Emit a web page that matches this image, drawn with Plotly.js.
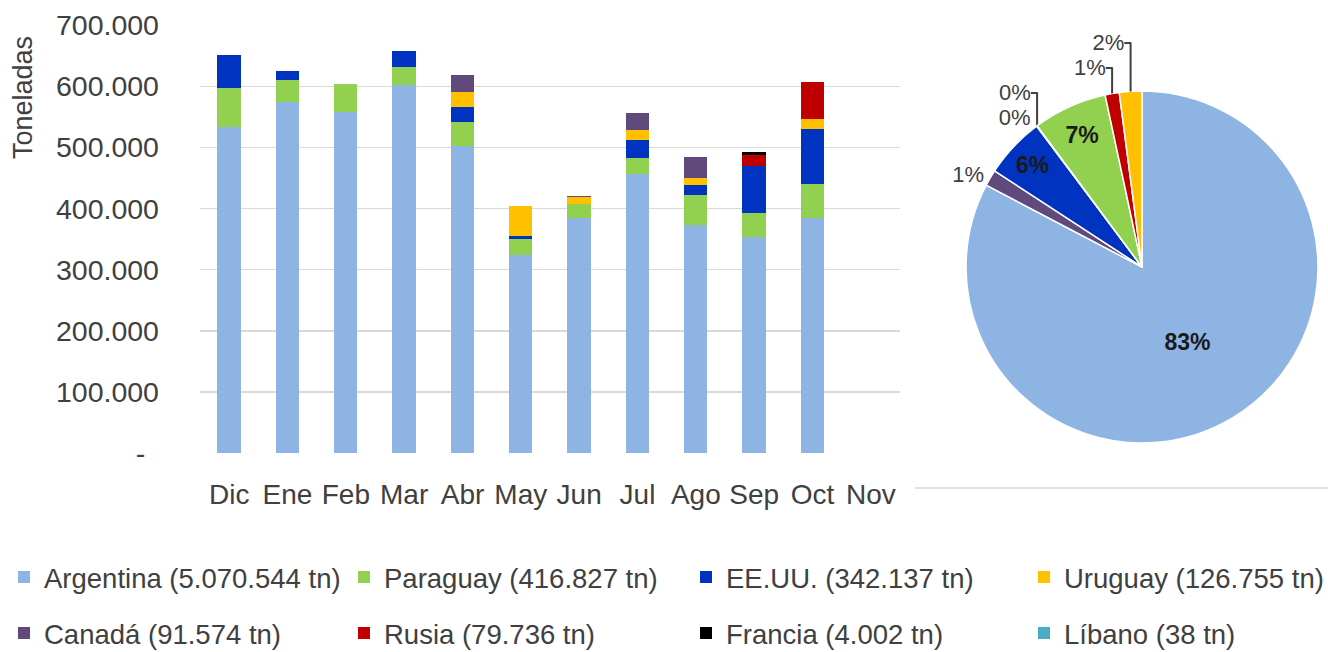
<!DOCTYPE html>
<html>
<head>
<meta charset="utf-8">
<script src="https://cdn.plot.ly/plotly-3.0.1.min.js"></script>
<style>html,body{margin:0;padding:0;background:#fff;}#chart{width:1328px;height:652px;}</style>
</head>
<body>
<div id="chart"></div>
<script>
// ---- data ----
const months = ['Dic','Ene','Feb','Mar','Abr','May','Jun','Jul','Ago','Sep','Oct','Nov'];
const argentina = [533000, 574000, 558000, 603000, 502000, 324000, 384000, 457000, 373000, 353000, 385000, null];
const paraguay  = [64000, 36000, 46000, 28000, 40000, 27000, 23000, 26000, 49000, 40000, 55000, null];
const eeuu      = [54000, 16000, 0, 27000, 25000, 4000, 0, 30000, 16000, 77000, 91000, null];
const uruguay   = [0, 0, 0, 0, 24000, 49000, 12000, 15000, 12000, 0, 15000, null];
const canada    = [0, 0, 0, 0, 28000, 0, 2000, 28000, 34000, 0, 0, null];
const rusia     = [0, 0, 0, 0, 0, 0, 0, 0, 0, 18000, 61000, null];
const francia   = [0, 0, 0, 0, 0, 0, 0, 0, 0, 4000, 0, null];
const libano    = [0, 0, 0, 0, 38, 0, 0, 0, 0, 0, 0, null];

const countryNames  = ['Argentina','Paraguay','EE.UU.','Uruguay','Canadá','Rusia','Francia','Líbano'];
const countryTotals = [5070544, 416827, 342137, 126755, 91574, 79736, 4002, 38];

const pieLabels = ['Argentina','Canadá','EE.UU.','Francia','Líbano','Paraguay','Rusia','Uruguay'];
const pieValues = [5070544, 91574, 342137, 4002, 38, 416827, 79736, 126755];

const yTickVals = [0, 100000, 200000, 300000, 400000, 500000, 600000, 700000];
const yTickText = ['-\u00A0\u2009', '100.000', '200.000', '300.000', '400.000', '500.000', '600.000', '700.000'];

// ---- styling ----
const colorsByCountry = {
  'Argentina':'#8EB4E3', 'Paraguay':'#92D050', 'EE.UU.':'#0033C0', 'Uruguay':'#FFC000',
  'Canadá':'#604A7B', 'Rusia':'#C00000', 'Francia':'#000000', 'Líbano':'#4BACC6'
};
const seriesData = [argentina, paraguay, eeuu, uruguay, canada, rusia, francia, libano];
const FONT = 'Liberation Sans, Arial, sans-serif';
const TXT = '#404040';

// legend slot positions (pixels): 4 columns x 2 rows
const legendColsPx = [4, 344, 686, 1024];
const legendRowsPx = [577, 633];

function fmt(n){ return String(n).replace(/\B(?=(\d{3})+(?!\d))/g, '.'); }
const legendKey = i => (i === 0 ? 'legend' : 'legend' + (i + 1));

const traces = countryNames.map((name, i) => ({
  type: 'bar',
  x: months,
  y: seriesData[i],
  name: name + ' (' + fmt(countryTotals[i]) + ' tn)',
  marker: {color: colorsByCountry[name], line: {width: 0}},
  legend: legendKey(i),
  hoverinfo: 'x+y+name'
}));

const pieText = ['inside','outside','inside','outside','outside','inside','outside','outside'];
traces.push({
  type: 'pie',
  labels: pieLabels,
  values: pieValues,
  sort: false,
  direction: 'clockwise',
  rotation: 0,
  showlegend: false,
  texttemplate: '%{percent:.0%}',
  textposition: pieText,
  insidetextorientation: 'horizontal',
  insidetextfont: {family: FONT, size: 23, color: '#1a1a1a', weight: 'bold'},
  outsidetextfont: {family: FONT, size: 22, color: TXT},
  marker: {colors: pieLabels.map(l => colorsByCountry[l]), line: {color: '#ffffff', width: 1.5}},
  domain: {x: [0.7274, 0.9925], y: [0.3206, 0.8604]},
  automargin: false
});

const layout = {
  width: 1328, height: 652,
  margin: {l: 0, r: 0, t: 0, b: 0, autoexpand: false},
  paper_bgcolor: '#ffffff', plot_bgcolor: '#ffffff',
  barmode: 'stack', bargap: 0.6,
  font: {family: FONT, color: TXT},
  xaxis: {
    domain: [0.1506, 0.6777],
    type: 'category', categoryorder: 'array', categoryarray: months,
    showgrid: false, zeroline: false, showline: false, ticks: '',
    tickfont: {family: FONT, size: 28, color: TXT},
    ticklabelstandoff: 22, fixedrange: true
  },
  yaxis: {
    domain: [0.3052, 0.9612],
    range: [0, 700000],
    tickvals: yTickVals, ticktext: yTickText,
    showgrid: true, gridcolor: '#D9D9D9', gridwidth: 1.5,
    zeroline: false, showline: false, ticks: '',
    tickfont: {family: FONT, size: 28.5, color: TXT},
    ticklabelstandoff: 40, fixedrange: true
  },
  annotations: [{
    text: 'Toneladas', textangle: -90, showarrow: false,
    xref: 'paper', yref: 'paper', x: 0.0173, y: 0.851, xanchor: 'center', yanchor: 'middle',
    font: {family: FONT, size: 27, color: TXT}
  }],
  shapes: [{
    type: 'line', xref: 'paper', yref: 'paper',
    x0: 0.689, x1: 1.0, y0: 0.2515, y1: 0.2515,
    line: {color: '#D9D9D9', width: 1.5}
  }]
};

countryNames.forEach((name, i) => {
  layout[legendKey(i)] = {
    orientation: 'h', xanchor: 'left', yanchor: 'middle',
    x: legendColsPx[i % 4] / 1328,
    y: 1 - legendRowsPx[Math.floor(i / 4)] / 652,
    font: {family: FONT, size: 27.5, color: TXT},
    bgcolor: 'rgba(0,0,0,0)', itemclick: false, itemdoubleclick: false
  };
});

Plotly.newPlot('chart', traces, layout, {displayModeBar: false, staticPlot: true});
</script>
</body>
</html>
